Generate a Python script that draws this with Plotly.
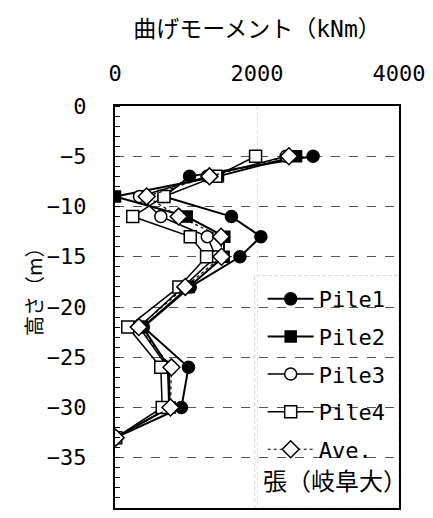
import plotly.graph_objects as go

# Depth of each measurement point (m)
depth = [-5, -7, -9, -11, -13, -15, -18, -22, -26, -30, -33]

# Bending moment along each pile (kNm)
pile1 = [2790, 1050, 690, 1640, 2055, 1760, 1060, 400, 1035, 935, 10]
pile2 = [2550, 1450, 0, 1010, 1540, 1530, 1040, 390, 760, 770, 10]
pile3 = [2410, 1300, 345, 645, 1300, 1420, 960, 340, 740, 760, 10]
pile4 = [1980, 1420, 690, 250, 1060, 1290, 900, 180, 645, 665, 10]
ave = [2450, 1330, 446, 897, 1494, 1500, 990, 335, 795, 782, 10]

x_ticks = [0, 2000, 4000]
y_ticks = [0, -5, -10, -15, -20, -25, -30, -35, -40]

FONT = "DejaVu Sans Mono, Noto Sans CJK JP, monospace"
JP_FONT = "Noto Sans CJK JP, DejaVu Sans Mono, sans-serif"

series = [
    ("Pile1", pile1, dict(symbol="circle", size=12, color="black",
                          line=dict(color="black", width=1.5)), dict(width=2)),
    ("Pile2", pile2, dict(symbol="square", size=11, color="black",
                          line=dict(color="black", width=1.5)), dict(width=2)),
    ("Pile3", pile3, dict(symbol="circle", size=12, color="white",
                          line=dict(color="black", width=1.5)), dict(width=1.5)),
    ("Pile4", pile4, dict(symbol="square", size=12, color="white",
                          line=dict(color="black", width=1.5)), dict(width=1.5)),
    ("Ave.", ave, dict(symbol="diamond", size=13, color="white",
                       line=dict(color="black", width=1.5)), dict(width=1.2, dash="dot")),
]

fig = go.Figure()
for i, (name, vals, marker, line) in enumerate(series):
    fig.add_trace(go.Scatter(
        x=vals, y=depth, name=name, mode="lines+markers",
        marker=marker, line=dict(color="black", **line),
        legendgroup=f"g{i}",
    ))

# Legend panel background
fig.add_shape(type="rect", xref="paper", yref="paper",
              x0=0.492, x1=1.0, y0=0.0, y1=0.578,
              fillcolor="white", line=dict(color="#cccccc", width=1, dash="dot"),
              layer="between")

fig.add_annotation(text="張（岐阜大）", xref="paper", yref="paper",
                   x=0.515, y=0.07, xanchor="left", yanchor="middle",
                   showarrow=False, font=dict(size=24, color="black", family=JP_FONT))

# Vertical axis title
fig.add_annotation(text="高さ（m）", xref="paper", yref="paper",
                   x=-0.285, y=0.55, xanchor="center", yanchor="middle",
                   textangle=-90, showarrow=False,
                   font=dict(size=20, color="black", family=JP_FONT))

fig.update_layout(
    width=433, height=518,
    margin=dict(l=115, r=28, t=106, b=8),
    paper_bgcolor="white", plot_bgcolor="white",
    font=dict(family=FONT, color="black", size=22),
    showlegend=True,
    legend=dict(x=0.52, y=0.572, xanchor="left", yanchor="top",
                bgcolor="rgba(0,0,0,0)", borderwidth=0,
                font=dict(size=22, family=FONT, color="black"),
                itemwidth=46, tracegroupgap=6),
    xaxis=dict(
        side="top", range=[0, 4000], tickvals=x_ticks,
        ticktext=[str(v) for v in x_ticks],
        showline=True, mirror=True, linecolor="black", linewidth=2,
        showgrid=True, gridcolor="#dddddd", griddash="dot", gridwidth=1,
        zeroline=False, ticks="", ticklabelstandoff=14,
        tickfont=dict(size=22),
        title=dict(text="曲げモーメント（kNm）", font=dict(size=23), standoff=17),
    ),
    yaxis=dict(
        range=[-40, 0], tickvals=y_ticks,
        ticktext=[str(v).replace("-", "−") for v in y_ticks],
        showline=True, mirror=True, linecolor="black", linewidth=2,
        showgrid=True, gridcolor="#555555", griddash="dash", gridwidth=1,
        zeroline=False, ticks="", ticklabelstandoff=22,
        tickfont=dict(size=22),
        minor=dict(dtick=1, ticks="inside", ticklen=5, tickcolor="black",
                   tickwidth=1, showgrid=False),
    ),
)

fig.write_html("out.html")
